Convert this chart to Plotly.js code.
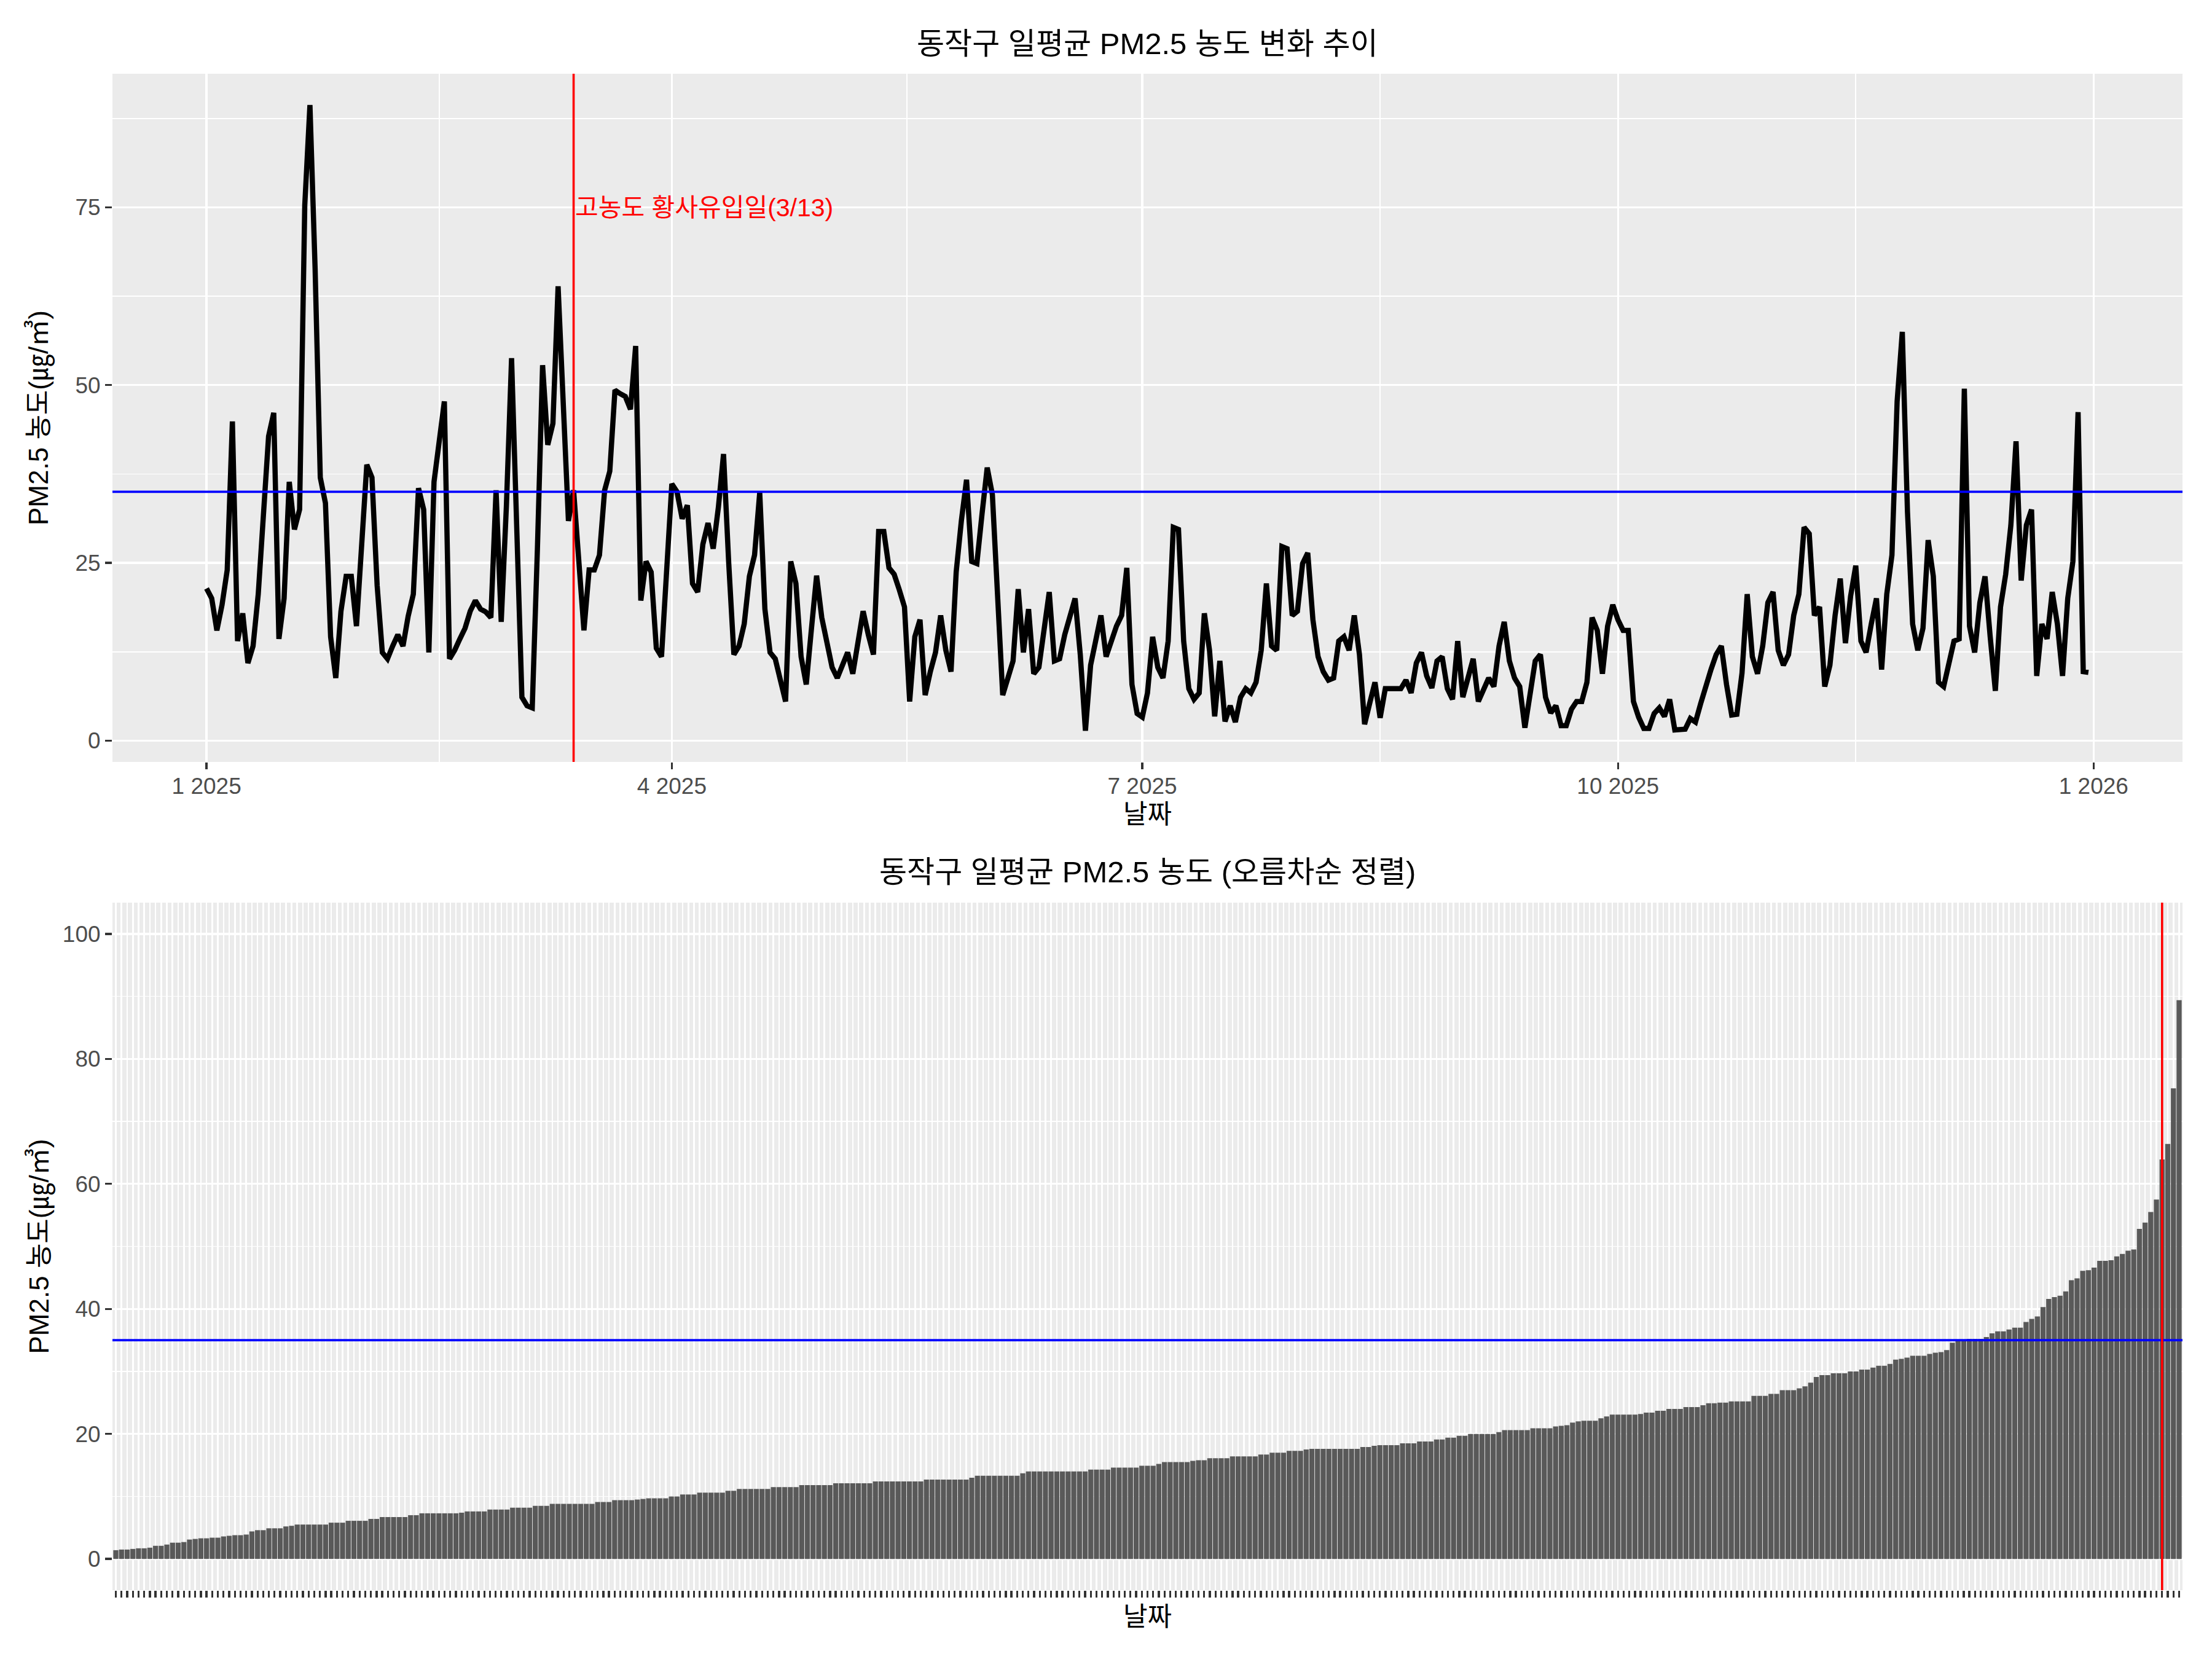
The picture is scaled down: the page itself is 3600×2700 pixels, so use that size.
<!DOCTYPE html>
<html>
<head>
<meta charset="utf-8">
<script src="https://cdn.plot.ly/plotly-3.0.1.min.js"></script>
<style>html,body{margin:0;padding:0;background:#ffffff;}</style>
</head>
<body>
<div id="chart" style="width:3600px;height:2700px;"></div>
<script>
// ---------------- data ----------------
const startDate = '2025-01-01';
const pm25Values = [
  21.4, 20.0, 15.5, 19.1, 24.0, 44.9, 14.0, 17.9, 10.9, 13.3,
  20.6, 32.0, 42.8, 46.1, 14.3, 20.0, 36.4, 29.7, 32.5, 75.3,
  89.4, 66.4, 37.0, 33.4, 14.6, 8.8, 18.2, 23.1, 23.1, 16.1,
  26.4, 38.8, 37.0, 21.8, 12.4, 11.5, 13.3, 14.9, 13.3, 17.5,
  20.6, 35.5, 32.5, 12.4, 36.4, 41.9, 47.7, 11.5, 12.7, 14.3,
  15.8, 18.2, 19.7, 18.5, 18.1, 17.3, 35.2, 16.7, 33.0, 53.8,
  29.7, 6.1, 4.9, 4.6, 27.0, 52.8, 41.6, 44.6, 63.9, 47.8,
  30.9, 35.2, 25.0, 15.5, 24.0, 24.0, 26.1, 35.2, 37.9, 49.3,
  48.8, 48.4, 46.6, 55.5, 19.7, 25.2, 23.7, 13.0, 11.8, 24.3,
  36.1, 35.0, 31.2, 33.1, 22.1, 20.9, 27.6, 30.6, 27.0, 32.8,
  40.3, 25.0, 12.1, 13.3, 16.4, 23.1, 26.1, 34.9, 18.5, 12.4,
  11.5, 8.5, 5.5, 25.2, 22.1, 11.8, 7.9, 15.7, 23.2, 17.3,
  14.0, 10.3, 8.8, 10.6, 12.4, 9.4, 14.0, 18.2, 14.9, 12.1,
  29.4, 29.4, 24.3, 23.4, 21.2, 18.8, 5.5, 14.6, 17.0, 6.4,
  9.7, 12.4, 17.6, 12.7, 9.7, 23.7, 30.9, 36.7, 25.2, 24.9,
  31.9, 38.4, 34.6, 22.0, 6.4, 8.8, 11.2, 21.3, 12.4, 18.5,
  9.4, 10.3, 15.2, 20.9, 11.2, 11.5, 14.9, 17.6, 20.0, 12.1,
  1.4, 10.6, 14.0, 17.6, 11.8, 14.0, 16.1, 17.6, 24.3, 7.9,
  3.8, 3.3, 6.7, 14.6, 10.3, 8.8, 14.0, 30.0, 29.7, 14.0,
  7.3, 5.8, 6.7, 17.9, 12.7, 3.4, 11.2, 2.7, 4.9, 2.6,
  6.1, 7.3, 6.7, 8.2, 12.7, 22.1, 13.3, 12.7, 27.3, 27.0,
  17.6, 18.2, 24.9, 26.4, 17.0, 11.8, 9.7, 8.5, 8.8, 14.0,
  14.6, 12.7, 17.6, 12.1, 2.3, 5.3, 8.2, 3.2, 7.3, 7.3,
  7.3, 7.3, 8.5, 6.7, 10.9, 12.4, 9.1, 7.4, 11.2, 11.8,
  7.3, 5.8, 14.0, 6.1, 8.8, 11.5, 5.5, 7.0, 8.8, 7.6,
  13.3, 16.7, 11.2, 8.8, 7.6, 1.8, 6.7, 11.2, 12.1, 6.1,
  3.9, 4.9, 2.1, 2.1, 4.4, 5.5, 5.5, 8.2, 17.3, 15.5,
  9.4, 16.1, 19.1, 17.0, 15.5, 15.5, 5.5, 3.3, 1.7, 1.7,
  3.8, 4.6, 3.4, 5.8, 1.5, 1.5, 1.6, 3.1, 2.6, 5.2,
  7.9, 10.0, 12.1, 13.3, 7.9, 3.6, 3.7, 9.5, 20.6, 11.8,
  9.4, 13.3, 19.4, 20.9, 12.7, 10.6, 12.1, 17.6, 20.6, 30.0,
  29.1, 17.6, 18.8, 7.6, 10.6, 17.6, 22.8, 13.7, 20.3, 24.6,
  14.0, 12.4, 16.4, 20.0, 10.0, 20.6, 26.1, 47.7, 57.5, 32.2,
  16.4, 12.7, 15.8, 28.2, 23.1, 8.2, 7.6, 10.6, 14.0, 14.3,
  49.5, 16.1, 12.4, 19.4, 23.1, 14.6, 7.0, 18.8, 23.4, 30.3,
  42.1, 22.5, 30.3, 32.5, 9.1, 16.4, 14.3, 20.9, 16.4, 9.1,
  20.0, 25.2, 46.2, 9.7, 9.6
];
const thresholdValue = 35;
const eventDate = '2025-03-13';
const eventLabel = '고농도 황사유입일(3/13)';
const eventLabelY = 75;
const sortedMarkerDate = '2025-03-10';

const topTitle = '동작구 일평균 PM2.5 농도 변화 추이';
const bottomTitle = '동작구 일평균 PM2.5 농도 (오름차순 정렬)';
const xTitleText = '날짜';
const yTitleText = 'PM2.5 농도(㎍/㎥)';

const topTickDates = ['2025-01-01', '2025-04-01', '2025-07-01', '2025-10-01', '2026-01-01'];
const topTickLabels = ['1 2025', '4 2025', '7 2025', '10 2025', '1 2026'];
const topMinorDates = ['2025-02-15', '2025-05-16 12:00', '2025-08-16', '2025-11-16'];
const topYTicks = [0, 25, 50, 75];
const topYMinor = [12.5, 37.5, 62.5, 87.5];
const bottomYTicks = [0, 20, 40, 60, 80, 100];
const bottomYMinor = [10, 30, 50, 70, 90];
const bottomYLimits = [0, 100];

// ---------------- derived ----------------
const dayMs = 86400000;
const t0 = Date.parse(startDate + 'T00:00:00Z');
const dates = pm25Values.map((_, i) => new Date(t0 + i * dayMs).toISOString().slice(0, 10));

const order = pm25Values.map((v, i) => i).sort((a, b) => pm25Values[a] - pm25Values[b]);
const sortedDates = order.map(i => dates[i]);
const sortedValues = order.map(i => pm25Values[i]);
const markerIndex = sortedDates.indexOf(sortedMarkerDate);

function fmt(ms) { return new Date(ms).toISOString().replace('T', ' ').slice(0, 19); }
const tStart = t0, tEnd = t0 + (dates.length - 1) * dayMs;
const tPad = (tEnd - tStart) * 0.05;
const xRangeTop = [fmt(tStart - tPad), fmt(tEnd + tPad)];
const vMin = Math.min(...pm25Values), vMax = Math.max(...pm25Values);
const vPad = (vMax - vMin) * 0.05;
const yRangeTop = [vMin - vPad, vMax + vPad];
const bPad = (bottomYLimits[1] - bottomYLimits[0]) * 0.05;
const yRangeBottom = [bottomYLimits[0] - bPad, bottomYLimits[1] + bPad];

// ---------------- style ----------------
const W = 3600, H = 2700;
const FONT = 'Liberation Sans, Arial, Noto Sans CJK KR, sans-serif';
const px = v => v / W;
const py = v => 1 - v / H;
const xDom = [px(183), px(3552)];
const topDom = [py(1240), py(120)];
const botDom = [py(2588), py(1469)];

const tickStyle = {
  ticks: 'outside', ticklen: 11, tickwidth: 3.3, tickcolor: '#333333',
  tickfont: { family: FONT, size: 37, color: '#4D4D4D' },
  showgrid: true, gridcolor: '#FFFFFF', gridwidth: 3.3,
  zeroline: false, showline: false
};

const traces = [
  {
    type: 'scatter', mode: 'lines', x: dates, y: pm25Values,
    xaxis: 'x', yaxis: 'y',
    line: { color: '#000000', width: 8.5 },
    hoverinfo: 'skip'
  },
  {
    type: 'bar', x: sortedDates, y: sortedValues,
    xaxis: 'x2', yaxis: 'y2',
    marker: { color: '#595959', line: { width: 0 } },
    width: 0.9,
    hoverinfo: 'skip'
  }
];

const layout = {
  width: W, height: H,
  margin: { l: 0, r: 0, t: 0, b: 0 },
  paper_bgcolor: '#FFFFFF', plot_bgcolor: '#EBEBEB',
  showlegend: false,
  font: { family: FONT, size: 37, color: '#4D4D4D' },
  xaxis: Object.assign({}, tickStyle, {
    domain: xDom, anchor: 'y', type: 'date', range: xRangeTop,
    tickmode: 'array', tickvals: topTickDates, ticktext: topTickLabels,
    ticklabelstandoff: -4,
    minor: { tickmode: 'array', tickvals: topMinorDates, showgrid: true, gridcolor: '#FFFFFF', gridwidth: 1.7, ticks: '' }
  }),
  yaxis: Object.assign({}, tickStyle, {
    domain: topDom, anchor: 'x', range: yRangeTop,
    tickmode: 'array', tickvals: topYTicks, ticktext: topYTicks.map(String),
    minor: { tickmode: 'array', tickvals: topYMinor, showgrid: true, gridcolor: '#FFFFFF', gridwidth: 1.7, ticks: '' }
  }),
  xaxis2: Object.assign({}, tickStyle, {
    domain: xDom, anchor: 'y2', type: 'category',
    range: [-0.6, sortedDates.length - 0.4],
    tickmode: 'array', tickvals: sortedDates, showticklabels: false,
    gridwidth: 2.6
  }),
  yaxis2: Object.assign({}, tickStyle, {
    domain: botDom, anchor: 'x2', range: yRangeBottom,
    tickmode: 'array', tickvals: bottomYTicks, ticktext: bottomYTicks.map(String),
    minor: { tickmode: 'array', tickvals: bottomYMinor, showgrid: true, gridcolor: '#FFFFFF', gridwidth: 1.7, ticks: '' }
  }),
  shapes: [
    { type: 'line', xref: 'x domain', x0: 0, x1: 1, yref: 'y', y0: thresholdValue, y1: thresholdValue,
      line: { color: '#0000FF', width: 3.6 }, layer: 'above' },
    { type: 'line', xref: 'x', x0: eventDate, x1: eventDate, yref: 'y domain', y0: 0, y1: 1,
      line: { color: '#FF0000', width: 3.6 }, layer: 'above' },
    { type: 'line', xref: 'x2 domain', x0: 0, x1: 1, yref: 'y2', y0: thresholdValue, y1: thresholdValue,
      line: { color: '#0000FF', width: 3.6 }, layer: 'above' },
    { type: 'line', xref: 'x2', x0: markerIndex, x1: markerIndex, yref: 'y2 domain', y0: 0, y1: 1,
      line: { color: '#FF0000', width: 3.6 }, layer: 'above' }
  ],
  annotations: [
    { xref: 'paper', yref: 'paper', x: (xDom[0] + xDom[1]) / 2, y: py(71), text: topTitle, showarrow: false,
      xanchor: 'center', yanchor: 'middle', font: { family: FONT, size: 49, color: '#000000' } },
    { xref: 'paper', yref: 'paper', x: (xDom[0] + xDom[1]) / 2, y: py(1419), text: bottomTitle, showarrow: false,
      xanchor: 'center', yanchor: 'middle', font: { family: FONT, size: 49, color: '#000000' } },
    { xref: 'paper', yref: 'paper', x: (xDom[0] + xDom[1]) / 2, y: py(1325), text: xTitleText, showarrow: false,
      xanchor: 'center', yanchor: 'middle', font: { family: FONT, size: 43, color: '#000000' } },
    { xref: 'paper', yref: 'paper', x: (xDom[0] + xDom[1]) / 2, y: py(2631), text: xTitleText, showarrow: false,
      xanchor: 'center', yanchor: 'middle', font: { family: FONT, size: 43, color: '#000000' } },
    { xref: 'paper', yref: 'paper', x: px(64), y: (topDom[0] + topDom[1]) / 2, text: yTitleText, showarrow: false,
      textangle: -90, xanchor: 'center', yanchor: 'middle', font: { family: FONT, size: 44, color: '#000000' } },
    { xref: 'paper', yref: 'paper', x: px(64), y: (botDom[0] + botDom[1]) / 2, text: yTitleText, showarrow: false,
      textangle: -90, xanchor: 'center', yanchor: 'middle', font: { family: FONT, size: 44, color: '#000000' } },
    { xref: 'x', yref: 'y', x: eventDate, y: eventLabelY, text: eventLabel, showarrow: false,
      xanchor: 'left', yanchor: 'middle', font: { family: FONT, size: 41, color: '#FF0000' } }
  ]
};

Plotly.newPlot('chart', traces, layout, { staticPlot: true, displayModeBar: false });
</script>
</body>
</html>
